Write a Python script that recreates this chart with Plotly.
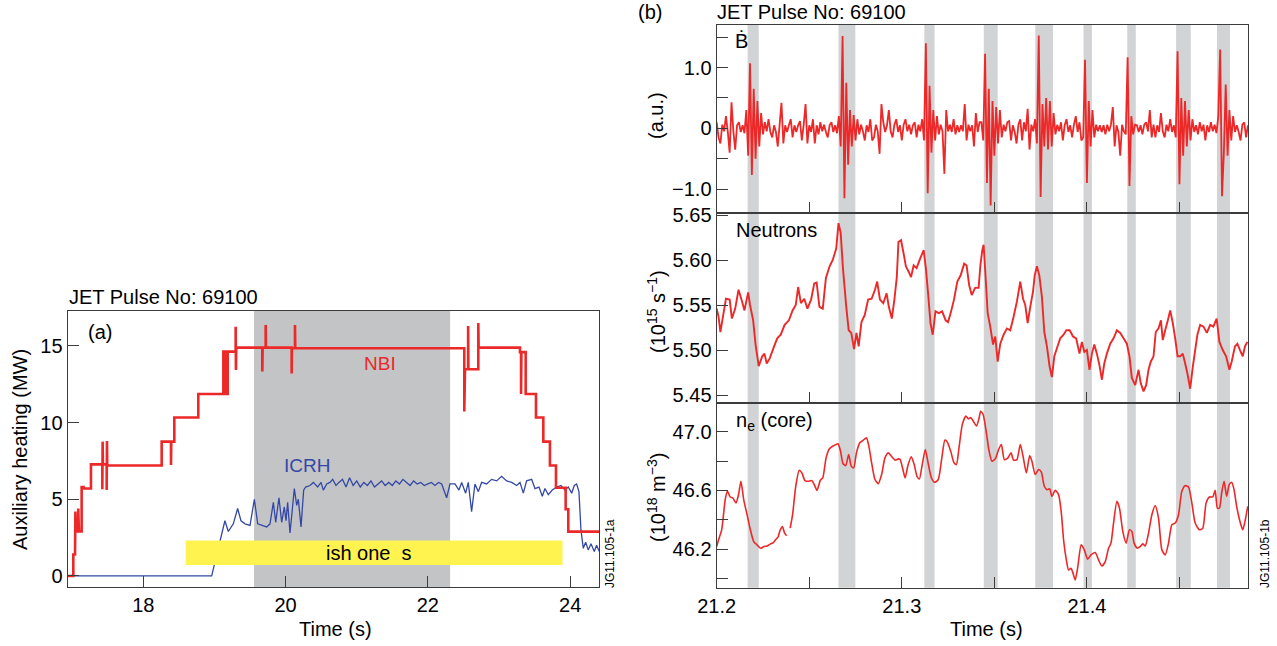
import numpy as np
import plotly.graph_objects as go

FONT = "Liberation Sans, Arial, Helvetica, DejaVu Sans, sans-serif"

# ---------------- Panel (a): auxiliary heating ----------------
NBI_T = [16.937, 17.016, 17.016, 17.040, 17.045, 17.055, 17.085, 17.085, 17.095, 17.133,
         17.133, 17.160, 17.160, 17.264, 17.264, 17.424, 17.424, 17.428, 17.432, 17.485,
         17.485, 17.489, 17.493, 18.258, 18.258, 18.389, 18.389, 18.393, 18.436, 18.436,
         18.773, 18.773, 19.125, 19.125, 19.150, 19.150, 19.186, 19.186, 19.298, 19.298,
         19.302, 19.306, 19.673, 19.673, 19.677, 19.720, 19.720, 19.724, 20.085, 20.085,
         20.089, 20.132, 20.132, 20.136, 22.512, 22.512, 22.522, 22.566, 22.566, 22.570,
         22.709, 22.709, 22.714, 23.295, 23.295, 23.310, 23.310, 23.315, 23.375, 23.375,
         23.520, 23.520, 23.623, 23.623, 23.716, 23.716, 23.801, 23.801, 23.937, 23.937,
         23.974, 23.974, 24.410]
NBI_V = [0.0, 0.0, 1.4, 1.4, 4.2, 2.9, 2.9, 4.4, 2.9, 2.9,
         5.8, 5.8, 5.7, 5.7, 7.28, 7.28, 5.65, 8.76, 7.28, 7.28,
         5.6, 8.8, 7.2, 7.2, 8.76, 8.76, 7.24, 8.76, 8.76, 10.33,
         10.33, 11.87, 11.87, 14.63, 14.63, 11.87, 11.87, 14.63, 14.63, 16.26,
         13.43, 14.89, 14.89, 13.33, 14.89, 14.89, 16.37, 14.89, 14.89, 13.2,
         14.85, 14.85, 16.37, 14.85, 14.85, 10.72, 13.48, 13.48, 16.3, 13.48,
         13.48, 16.5, 14.89, 14.89, 14.6, 14.6, 11.87, 14.6, 14.6, 11.87,
         11.87, 10.33, 10.33, 8.76, 8.76, 7.2, 7.2, 5.75, 5.75, 4.35,
         4.35, 2.89, 2.89]

ICRH_T = [16.937, 18.961, 19.147, 19.195, 19.265, 19.326, 19.373, 19.429, 19.500, 19.561,
          19.608, 19.664, 19.734, 19.781, 19.828, 19.861, 19.907, 19.945, 19.982, 20.006,
          20.029, 20.062, 20.123, 20.156, 20.179, 20.217, 20.254, 20.282, 20.343, 20.390,
          20.451, 20.498, 20.531, 20.578, 20.624, 20.662, 20.709, 20.75, 20.80, 20.85,
          20.90, 20.95, 21.00, 21.05, 21.10, 21.15, 21.20, 21.25, 21.30, 21.35,
          21.40, 21.45, 21.50, 21.55, 21.60, 21.65, 21.70, 21.75, 21.80, 21.85,
          21.90, 21.95, 22.00, 22.05, 22.10, 22.15, 22.194, 22.264, 22.311, 22.381,
          22.437, 22.475, 22.531, 22.568, 22.615, 22.662, 22.709, 22.756, 22.826, 22.896,
          22.967, 23.037, 23.107, 23.178, 23.248, 23.295, 23.342, 23.388, 23.459, 23.506,
          23.562, 23.609, 23.646, 23.693, 23.749, 23.810, 23.871, 23.927, 23.974, 24.021,
          24.059, 24.091, 24.124, 24.152, 24.185, 24.218, 24.255, 24.293, 24.340, 24.372,
          24.410]
ICRH_V = [0.0, 0.0, 3.6, 2.9, 3.4, 4.4, 3.6, 3.4, 3.3, 5.0,
          3.4, 3.3, 3.2, 3.4, 4.8, 3.5, 5.1, 3.5, 4.5, 3.6,
          4.8, 2.8, 5.7, 4.6, 5.0, 3.2, 5.6, 5.8, 5.9, 6.1,
          5.8, 6.1, 5.6, 6.0, 6.1, 6.3, 5.9, 6.1, 6.3, 5.8,
          6.4, 5.9, 6.2, 5.8, 6.1, 5.9, 6.2, 5.8, 6.0, 6.2,
          5.9, 6.1, 5.9, 6.2, 6.0, 6.3, 6.1, 5.9, 6.2, 6.0,
          6.1, 5.9, 6.0, 6.1, 5.9, 6.1, 6.0, 5.1, 6.0, 6.0,
          5.6, 6.1, 5.4, 6.1, 4.2, 6.0, 5.5, 6.1, 6.0, 6.3,
          6.2, 6.5, 6.2, 6.1, 5.9, 6.1, 5.4, 6.2, 6.3, 5.7,
          5.8, 5.2, 5.7, 5.3, 5.6, 5.8, 5.9, 5.6, 5.8, 5.4,
          5.9, 6.0, 5.5, 3.0, 1.8, 2.2, 1.7, 2.1, 1.6, 2.0,
          1.6]

SHADE_A = (19.557, 22.313)          # shaded interval in panel (a), s
X_TICKS_A = [18, 20, 22, 24]
Y_TICKS_A = [0, 5, 10, 15]

# ---------------- Panel (b): JET pulse 69100 detail ----------------
T0 = 21.2                           # s, start of the zoomed window
BDOT_DT = 0.001                     # s, sample spacing of the B-dot trace
BDOT_V = [
    0.10, -0.15, -0.25, 0.06, -0.05, 0.20, -0.06, -0.40, 0.43, -0.05,
    -0.35, 0.05, 0.10, -0.06, 0.05, -0.08, 0.30, -0.45, 1.07, -0.77,
    0.65, -0.50, 0.45, -0.30, 0.25, -0.10, 0.10, -0.05, 0.15, -0.06,
    -0.15, 0.05, -0.06, -0.30, 0.06, 0.42, -0.25, 0.05, -0.06, 0.05,
    0.15, -0.15, 0.05, -0.06, 0.05, 0.12, -0.20, 0.06, 0.40, -0.25,
    0.05, -0.06, 0.15, -0.25, 0.05, -0.10, 0.10, -0.05, 0.06, -0.06,
    -0.15, 0.05, 0.10, -0.06, 0.05, -0.08, 0.20, -0.30, 1.52, -1.15,
    0.75, -0.60, 0.30, -0.30, 0.22, -0.20, 0.15, -0.10, 0.06, -0.05,
    -0.20, 0.05, -0.06, 0.15, -0.20, -0.15, 0.06, -0.05, -0.42, 0.40,
    0.10, -0.06, 0.05, 0.30, -0.05, -0.15, 0.06, 0.15, -0.06, 0.05,
    -0.20, 0.06, 0.15, -0.05, 0.06, -0.10, 0.05, 0.10, -0.15, 0.06,
    -0.05, 0.15, -0.20, 1.40, -1.07, 0.70, -0.40, 0.30, -0.20, 0.20,
    -0.10, 0.06, -0.05, -0.75, 0.30, -0.05, 0.06, -0.06, 0.15, -0.10,
    0.05, -0.06, 0.05, -0.05, 0.40, -0.20, 0.06, -0.05, 0.05, -0.30,
    0.25, -0.06, 0.10, 0.10, -0.20, 1.23, -0.90, 0.65, -1.27, 0.45,
    -0.45, 0.35, -0.25, 0.30, -0.15, 0.06, -0.05, 0.10, 0.12, -0.20,
    0.05, -0.06, -0.25, 0.06, 0.15, -0.20, 0.10, -0.05, 0.32, -0.35,
    0.06, -0.05, 0.15, -0.25, 1.53, -1.13, 0.40, -0.30, 0.50, -0.35,
    0.45, -0.30, 0.25, -0.10, 0.06, -0.05, 0.10, -0.20, 0.05, 0.15,
    -0.06, 0.05, -0.15, 0.06, 0.20, -0.06, 0.10, -0.20, -0.15, 1.13,
    -0.90, 0.45, -0.30, 0.30, -0.15, 0.06, -0.05, 0.05, -0.06, 0.05,
    -0.10, 0.06, -0.05, 0.06, 0.35, -0.30, 0.05, -0.06, -0.45, 0.06,
    -0.05, -0.10, 1.17, -0.95, 0.20, -0.10, 0.06, 0.05, -0.06, 0.05,
    -0.10, 0.06, 0.10, -0.05, 0.30, -0.15, 0.06, -0.15, 0.05, -0.06,
    0.25, -0.05, -0.15, 0.06, -0.05, 0.15, -0.06, 0.05, -0.15, 1.27,
    -0.92, 0.50, -0.45, 0.45, -0.30, 0.30, -0.20, 0.15, -0.06, 0.05,
    -0.10, 0.10, -0.05, 0.06, -0.20, 0.05, -0.06, 0.10, -0.05, 0.06,
    -0.08, 0.20, 1.30, -1.12, -0.40, 0.72, -0.45, 0.30, -0.20, 0.20,
    -0.06, 0.05, -0.06, -0.20, 0.06, 0.10, -0.15, 0.05]

# neutron rate: time after T0 (ms) and value (1e15 /s)
NEUT_MS = [0, 1, 2, 3.7, 5, 7, 8.2, 10, 11.8, 13.7, 15, 17, 18, 19.7, 21, 22.7, 24.6, 25.8, 27, 28.7,
           31, 32.7, 34.6, 36.7, 39, 41, 42.7, 44, 45.5, 47.3, 49, 51, 52.7, 54, 55.5, 57.3, 59, 61, 62.7, 64.6,
           65.8, 67, 68.2, 70, 71.3, 72.7, 74.2, 75.5, 76.7, 78.2, 80, 81.8, 83.7, 85.5, 86.7, 88.2, 90, 91.8, 93, 94.6,
           96, 97.3, 98.2, 99.6, 101, 102.2, 103.7, 105, 106.4, 108, 110, 111.8, 113, 114.2, 115.5, 116.7, 118.2, 120, 121.8, 123.7,
           125, 126.4, 128.2, 130, 131.8, 133.7, 135, 136.4, 137.8, 139.6, 141.5, 142.5, 143.5, 144.2, 145.1, 146.4, 147.8, 149.3, 150.5, 151.8,
           153.2, 155, 156.8, 158.6, 160.4, 162.2, 164, 165.5, 166.7, 168, 169.4, 170.9, 171.8, 173, 174.3, 175.7, 177, 178.4, 179.9, 181.1,
           182.4, 183.8, 185.6, 187.4, 188.9, 190.7, 192.5, 194.2, 196, 197.3, 198.6, 200, 201.4, 202.7, 204, 205.4, 206.8, 208.1, 209.4, 210.8,
           212.6, 214.4, 216.2, 218, 219.8, 221.6, 223, 224.3, 226.1, 227.9, 229.1, 230.6, 232, 233.3, 234.5, 236, 237.2, 238.7, 240, 241,
           242.3, 243.5, 245, 246.4, 247.7, 249, 250.4, 251.8, 253.1, 254.3, 255.8, 257.2, 258.5, 259.7, 261.2, 263, 264.8, 266.6, 268.3, 270.1,
           271.6, 273.4, 275.2, 277, 278.2, 280, 281.3, 282.7, 284.2, 285.4, 286.7]
NEUT_V = [5.546, 5.537, 5.520, 5.541, 5.557, 5.556, 5.535, 5.546, 5.567, 5.554, 5.544, 5.564, 5.550, 5.533, 5.506, 5.482, 5.493, 5.496, 5.485, 5.491,
          5.504, 5.513, 5.517, 5.528, 5.533, 5.544, 5.550, 5.570, 5.552, 5.557, 5.546, 5.556, 5.574, 5.575, 5.548, 5.546, 5.580, 5.593, 5.600, 5.613,
          5.641, 5.630, 5.591, 5.548, 5.522, 5.519, 5.501, 5.519, 5.504, 5.531, 5.539, 5.556, 5.557, 5.567, 5.576, 5.556, 5.552, 5.563, 5.548, 5.535,
          5.556, 5.581, 5.620, 5.622, 5.607, 5.593, 5.587, 5.581, 5.594, 5.591, 5.602, 5.611, 5.591, 5.563, 5.530, 5.517, 5.543, 5.541, 5.543, 5.533,
          5.531, 5.541, 5.556, 5.576, 5.583, 5.596, 5.594, 5.572, 5.561, 5.569, 5.569, 5.595, 5.611, 5.617, 5.587, 5.541, 5.526, 5.506, 5.515, 5.487,
          5.507, 5.517, 5.524, 5.522, 5.537, 5.554, 5.576, 5.557, 5.550, 5.530, 5.548, 5.565, 5.583, 5.593, 5.583, 5.559, 5.520, 5.504, 5.481, 5.470,
          5.493, 5.502, 5.513, 5.517, 5.522, 5.522, 5.515, 5.513, 5.496, 5.509, 5.498, 5.500, 5.478, 5.496, 5.506, 5.496, 5.483, 5.467, 5.485, 5.496,
          5.507, 5.513, 5.522, 5.519, 5.513, 5.507, 5.493, 5.469, 5.461, 5.478, 5.463, 5.454, 5.461, 5.478, 5.487, 5.493, 5.520, 5.524, 5.533, 5.511,
          5.522, 5.531, 5.544, 5.530, 5.513, 5.493, 5.493, 5.496, 5.485, 5.474, 5.457, 5.481, 5.500, 5.517, 5.528, 5.526, 5.519, 5.528, 5.526, 5.535,
          5.509, 5.500, 5.493, 5.478, 5.487, 5.504, 5.507, 5.500, 5.493, 5.504, 5.509]

# core electron density: time after T0 (ms) and value (1e18 m^-3); None = data gap
NE_MS = [0, 1, 2.7, 4.6, 5.8, 7.3, 8.7, 10.4, 11.8, 13.1, 14.6, 16.4, 18.2, 20, 21.8, 23.7, 25.5, 27.3, 29.1, 30.6,
         31.8, 33.1, 34.2, 35.5, 36.7, 37.8, 38.7, 39.7, 41, 42.7, 44.6, 46, 47.7, 49.5, 51.3, 52.7, 54.2, 56, 57.3, 59.1,
         60.9, 63.3, 65.5, 66.9, 68.2, 69.7, 71.3, 72.7, 74, 75.5, 77.3, 79.1, 80.9, 82.2, 83.7, 85.5, 87.3, 89.1, 90.9, 92.7,
         94.6, 96.4, 98.2, 99.1, 100.4, 101.8, 103.3, 105.1, 106.7, 108.2, 109.5, 110.9, 112.7, 114.2, 116, 117.8, 119.7, 121.5, 123.3, 124.6,
         126.4, 128.2, 129.5, 130.9, 132.7, 134.6, 136, 137.3, 139.1, 140.4, 141.8, 142.6, 143.9, 145.7, 147, 148.7, 150.5, 152.3, 153.8, 155.4,
         157.2, 159, 160.4, 162.2, 164, 165.5, 167.3, 169.1, 170.3, 172.1, 173.9, 175.4, 177, 178.4, 179.9, 181.1, 182.9, 184.7, 186.2, 187.4,
         188.9, 190.1, 191.4, 192.4, 193.7, 195.1, 196.9, 198.6, 200.4, 202.2, 204.5, 206.3, 208.1, 209.9, 211.7, 213, 214.4, 216.2, 217.6, 219.4,
         221.2, 223, 224.3, 225.5, 227.3, 228.8, 230.2, 231.5, 233.3, 235.1, 236.9, 238.7, 240.5, 242.3, 244.1, 245.9, 247.7, 249.5, 251.3, 253.1,
         254.9, 256.7, 258.5, 260.8, 262.6, 264.4, 266.2, 268, 269.3, 270.5, 271.6, 272.8, 274.1, 275.5, 276.9, 278.2, 279.5, 280.9, 282.7, 284.2,
         285.4, 286.9]
NE_V = [46.217, 46.263, 46.331, 46.537, 46.594, 46.555, 46.548, 46.514, 46.571, 46.662, 46.537, 46.434, 46.331, 46.251, 46.228, 46.205, 46.217, 46.221, 46.235, 46.244,
        46.263, 46.281, 46.326, 46.354, 46.308, 46.290, None, 46.342, 46.434, 46.628, 46.737, 46.719, 46.667, 46.662, 46.667, 46.639, 46.600, 46.669, 46.685, 46.822,
        46.884, 46.906, 46.918, 46.868, 46.783, 46.769, 46.845, 46.765, 46.753, 46.856, 46.925, 46.941, 46.959, 46.902, 46.788, 46.674, 46.646, 46.708, 46.822, 46.856,
        46.829, 46.806, 46.815, 46.810, 46.753, 46.685, 46.769, 46.829, 46.776, 46.696, 46.678, 46.765, 46.879, 46.788, 46.685, 46.655, 46.674, 46.810, 46.943, 46.929,
        46.868, 46.788, 46.776, 46.890, 47.050, 47.107, 47.089, 47.096, 47.062, 47.039, 47.096, 47.140, 47.119, 46.993, 46.879, 46.799, 46.815, 46.879, 46.913, 46.810,
        46.820, 46.856, 46.806, 46.810, 46.913, 46.833, 46.719, 46.838, 46.799, 46.708, 46.742, 46.724, 46.628, 46.605, 46.610, 46.559, 46.600, 46.571, 46.445, 46.263,
        46.126, 46.057, 46.068, 46.039, 45.989, 46.080, 46.228, 46.194, 46.130, 46.160, 46.176, 46.126, 46.084, 46.114, 46.205, 46.240, 46.377, 46.525, 46.479, 46.320,
        46.240, 46.331, 46.320, 46.240, 46.205, 46.217, 46.235, 46.221, 46.308, 46.434, 46.495, 46.411, 46.194, 46.160, 46.240, 46.365, 46.377, 46.434, 46.594, 46.632,
        46.623, 46.514, 46.377, 46.331, 46.342, 46.514, 46.555, 46.555, 46.600, 46.479, 46.479, 46.582, 46.662, 46.559, 46.639, 46.655, 46.605, 46.491, 46.388, 46.331,
        46.388, 46.491]

# grey bands marking the crash periods (s)
BAND_START = [21.2167, 21.2658, 21.3122, 21.3443, 21.3721, 21.3982, 21.4218, 21.4482, 21.4703]
BAND_END = [21.2227, 21.2749, 21.3177, 21.3518, 21.3817, 21.4027, 21.4264, 21.4561, 21.4773]

# tick positions / labels (major labelled, minor unlabelled)
X_TICKS_B = [21.2, 21.3, 21.4]
X_TEXT_B = ["21.2", "21.3", "21.4"]
X_MINOR_B = [21.25, 21.35, 21.45]
BDOT_TICKS = [-1.0, 0.0, 1.0]
BDOT_TEXT = ["\u22121.0", "0", "1.0"]
BDOT_MINOR = [-0.5, 0.5, 1.5]
NEUT_TICKS = [5.45, 5.50, 5.55, 5.60, 5.65]
NEUT_TEXT = ["5.45", "5.50", "5.55", "5.60", "5.65"]
NE_TICKS = [46.2, 46.6, 47.0]
NE_TEXT = ["46.2", "46.6", "47.0"]
NE_MINOR = [46.0, 46.4, 46.8]

# ---------------- derived arrays ----------------
bdot_t = T0 + BDOT_DT * np.arange(len(BDOT_V))
neut_t = [T0 + m / 1000.0 for m in NEUT_MS]
ne_t = [T0 + m / 1000.0 for m in NE_MS]

RED = "rgb(236,40,40)"
BLUE = "rgb(52,72,165)"
AXC = "#3c3c3c"
W, H = 1277, 646

fig = go.Figure()
fig.add_trace(go.Scatter(x=ICRH_T, y=ICRH_V, mode="lines", line=dict(color=BLUE, width=1.3),
                         xaxis="x", yaxis="y", showlegend=False))
fig.add_trace(go.Scatter(x=NBI_T, y=NBI_V, mode="lines", line=dict(color=RED, width=2.6),
                         xaxis="x", yaxis="y", showlegend=False))
fig.add_trace(go.Scatter(x=bdot_t, y=BDOT_V, mode="lines",
                         line=dict(color=RED, width=1.8, simplify=False),
                         xaxis="x2", yaxis="y2", showlegend=False))
fig.add_trace(go.Scatter(x=neut_t, y=NEUT_V, mode="lines",
                         line=dict(color=RED, width=1.9, simplify=False),
                         xaxis="x3", yaxis="y3", showlegend=False))
fig.add_trace(go.Scatter(x=ne_t, y=NE_V, mode="lines", connectgaps=False,
                         line=dict(color=RED, width=1.6, shape="spline", smoothing=0.6),
                         xaxis="x4", yaxis="y4", showlegend=False))


def px_x(p):
    return p / W


def px_y(p):
    return 1 - p / H


def minor(vals):
    return dict(tickvals=vals, ticks="inside", ticklen=11, tickwidth=1.2, tickcolor=AXC,
                showgrid=False)


axis_common = dict(showline=True, linecolor=AXC, linewidth=1.3, mirror=True,
                   ticks="inside", ticklen=11, tickwidth=1.2, tickcolor=AXC,
                   showgrid=False, zeroline=False, automargin=False,
                   tickfont=dict(family=FONT, size=20, color="black"))

dom_b = [px_x(716.7), px_x(1248.3)]
XR_B = [21.2, 21.4872]
fig.update_layout(
    template="none",
    width=W, height=H, autosize=False,
    margin=dict(l=0, r=0, t=0, b=0, pad=0),
    paper_bgcolor="white", plot_bgcolor="white",
    font=dict(family=FONT, size=20, color="black"),
    showlegend=False,
    xaxis=dict(axis_common, domain=[px_x(67.7), px_x(599.3)], range=[16.937, 24.41],
               tickvals=X_TICKS_A, anchor="y"),
    yaxis=dict(axis_common, domain=[px_y(587.3), px_y(311)], range=[-0.74, 17.28],
               tickvals=Y_TICKS_A, anchor="x"),
    xaxis2=dict(axis_common, domain=dom_b, range=XR_B, tickvals=X_TICKS_B,
                showticklabels=False, minor=minor(X_MINOR_B), anchor="y2"),
    yaxis2=dict(axis_common, domain=[px_y(213.3), px_y(24.7)], range=[-1.40, 1.707],
                tickvals=BDOT_TICKS, ticktext=BDOT_TEXT, minor=minor(BDOT_MINOR), anchor="x2"),
    xaxis3=dict(axis_common, domain=dom_b, range=XR_B, tickvals=X_TICKS_B,
                showticklabels=False, minor=minor(X_MINOR_B), anchor="y3"),
    yaxis3=dict(axis_common, domain=[px_y(403.3), px_y(213.3)], range=[5.4408, 5.6519],
                tickvals=NEUT_TICKS, ticktext=NEUT_TEXT, anchor="x3"),
    xaxis4=dict(axis_common, domain=dom_b, range=XR_B, tickvals=X_TICKS_B,
                ticktext=X_TEXT_B, minor=minor(X_MINOR_B), anchor="y4"),
    yaxis4=dict(axis_common, domain=[px_y(587.7), px_y(403.3)], range=[45.936, 47.194],
                tickvals=NE_TICKS, ticktext=NE_TEXT, minor=minor(NE_MINOR), anchor="x4"),
)

shapes = [dict(type="rect", xref="x", yref="y domain", x0=SHADE_A[0], x1=SHADE_A[1], y0=0, y1=1,
               fillcolor="rgb(195,196,198)", line=dict(width=0), layer="below"),
          dict(type="rect", xref="x", yref="y", x0=18.596, x1=23.893, y0=0.72, y1=2.31,
               fillcolor="rgb(255,243,80)", line=dict(width=0), layer="above")]
for xr, yr in (("x2", "y2"), ("x3", "y3"), ("x4", "y4")):
    for s, e in zip(BAND_START, BAND_END):
        shapes.append(dict(type="rect", xref=xr, yref=yr + " domain", x0=s, x1=e, y0=0, y1=1,
                           fillcolor="rgb(209,211,212)", line=dict(width=0), layer="below"))
fig.update_layout(shapes=shapes)


def ann(text, x, y, size=20, xanchor="center", yanchor="middle", angle=0, color="black",
        xref="paper", yref="paper"):
    return dict(text=text, x=x, y=y, xref=xref, yref=yref, xanchor=xanchor, yanchor=yanchor,
                textangle=angle, showarrow=False,
                font=dict(family=FONT, size=size, color=color))


annotations = [
    ann("JET Pulse No: 69100", px_x(67), px_y(297), xanchor="left"),
    ann("JET Pulse No: 69100", px_x(715), px_y(12), xanchor="left"),
    ann("(b)", px_x(650), px_y(12)),
    ann("(a)", px_x(99.7), px_y(331.5)),
    ann("Time (s)", px_x(335), px_y(629)),
    ann("Time (s)", px_x(986), px_y(629)),
    ann("Auxiliary heating (MW)", px_x(20), px_y(450), angle=-90),
    ann("(a.u.)", px_x(656), px_y(116), angle=-90),
    ann("(10<sup>15</sup> s<sup>\u22121</sup>)", px_x(656), px_y(312), angle=-90),
    ann("(10<sup>18</sup> m<sup>\u22123</sup>)", px_x(656), px_y(498), angle=-90),
    ann("\u1E02", px_x(741.5), px_y(41)),
    ann("Neutrons", px_x(733.5), px_y(230), xanchor="left"),
    ann("n<sub>e</sub> (core)", px_x(733.5), px_y(421), xanchor="left"),
    ann("NBI", 21.327, 13.85, size=19, color=RED, xref="x", yref="y"),
    ann("ICRH", 20.296, 7.22, size=19, color=BLUE, xref="x", yref="y"),
    ann("ish one\u00a0\u00a0s", 21.17, 1.5, size=20, xref="x", yref="y"),
    ann("JG11.105-1a", px_x(610), px_y(554), size=12, angle=-90),
    ann("JG11.105-1b", px_x(1265), px_y(554), size=12, angle=-90),
]
fig.update_layout(annotations=annotations)

fig.write_html("out.html", include_plotlyjs=True, full_html=True,
               config={"displayModeBar": False, "responsive": False},
               post_script="document.body.style.margin='0px';document.body.style.overflow='hidden';")
